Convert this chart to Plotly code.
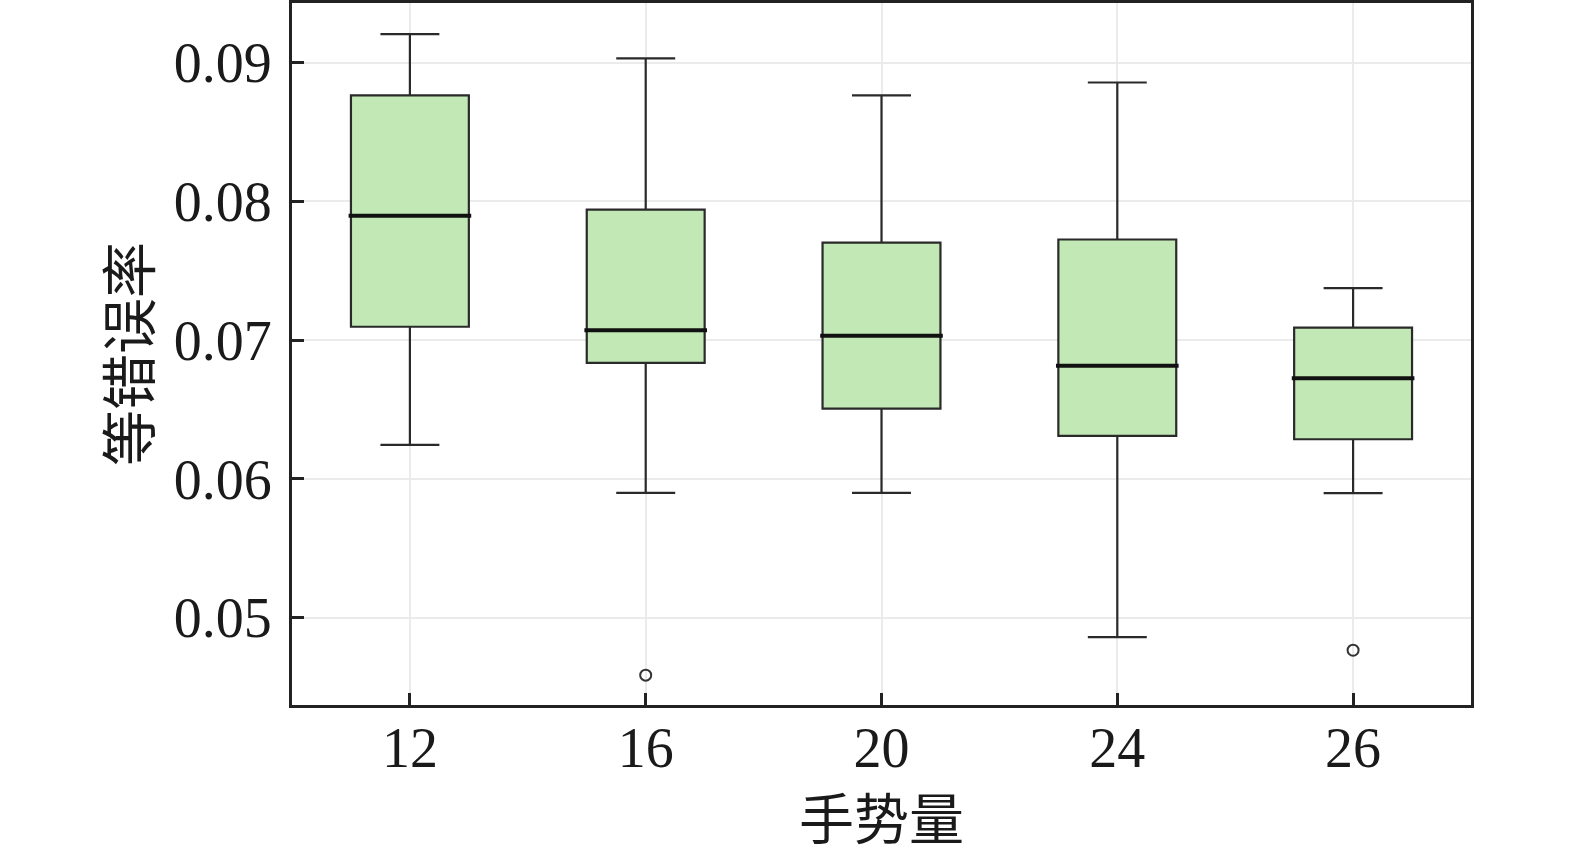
import plotly.graph_objects as go

categories = ["12", "16", "20", "24", "26"]
upper = [0.09206, 0.09032, 0.08765, 0.08858, 0.07376]
q3 = [0.08765, 0.07942, 0.07704, 0.07726, 0.07091]
median = [0.07898, 0.07072, 0.07032, 0.06816, 0.06725]
q1 = [0.07097, 0.06837, 0.06506, 0.06310, 0.06286]
lower = [0.06245, 0.05899, 0.05899, 0.04860, 0.05898]
outlier_cat = ["16", "26"]
outlier_val = [0.04585, 0.04765]

y_ticks = [0.05, 0.06, 0.07, 0.08, 0.09]
y_tick_text = ["0.05", "0.06", "0.07", "0.08", "0.09"]

pos = list(range(len(categories)))
box_w = 0.5
font_fam = "Liberation Serif, Noto Sans CJK SC, serif"

fig = go.Figure()
fig.add_trace(go.Box(
    x=pos, q1=q1, median=median, q3=q3, lowerfence=lower, upperfence=upper,
    width=box_w, whiskerwidth=0.5, boxpoints=False,
    fillcolor="#c1e8b5", line=dict(color="#2a2a2a", width=2.2),
    showlegend=False, hoverinfo="skip",
))

# thicker median lines
mx, my = [], []
for i, m in zip(pos, median):
    mx += [i - box_w / 2 - 0.01, i + box_w / 2 + 0.01, None]
    my += [m, m, None]
fig.add_trace(go.Scatter(x=mx, y=my, mode="lines",
                         line=dict(color="#111111", width=4),
                         showlegend=False, hoverinfo="skip"))

fig.add_trace(go.Scatter(
    x=[categories.index(c) for c in outlier_cat], y=outlier_val, mode="markers",
    marker=dict(symbol="circle-open", size=11, color="#333333", line=dict(width=2)),
    showlegend=False, hoverinfo="skip"))

fig.update_layout(
    width=1575, height=852,
    margin=dict(l=292, r=104, t=3, b=147),
    paper_bgcolor="white", plot_bgcolor="white",
    font=dict(family=font_fam, size=56, color="#1a1a1a"),
)
fig.update_xaxes(
    range=[-0.5, 4.5], tickmode="array", tickvals=pos, ticktext=categories,
    ticks="inside", ticklen=12, tickwidth=3, tickcolor="#222222",
    showline=True, linewidth=3, linecolor="#222222", mirror=True,
    showgrid=True, gridcolor="#ebebeb", gridwidth=2, zeroline=False,
    automargin=False, ticklabelstandoff=-8,
    title=dict(text="手势量", font=dict(size=55), standoff=23),
)
fig.update_yaxes(
    range=[0.04370, 0.09431], tickmode="array", tickvals=y_ticks, ticktext=y_tick_text,
    ticks="inside", ticklen=12, tickwidth=3, tickcolor="#222222",
    showline=True, linewidth=3, linecolor="#222222", mirror=True,
    showgrid=True, gridcolor="#ebebeb", gridwidth=2, zeroline=False,
    automargin=False, ticklabelstandoff=6,
    title=dict(text="等错误率", font=dict(size=56), standoff=6),
)

fig.write_html("out.html", config={"displayModeBar": False},
               post_script="document.body.style.margin='0';")
